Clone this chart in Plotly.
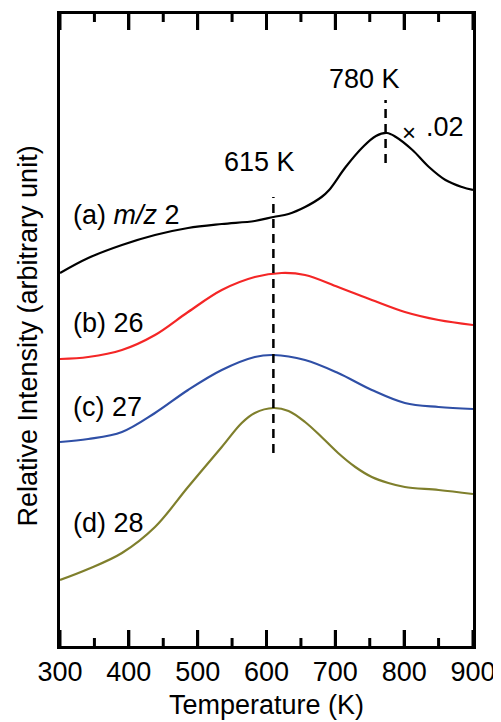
import plotly.graph_objects as go

# Temperature (K) and relative intensities (arbitrary units, offset traces)
T_a = [300, 341, 390, 438, 486, 535, 583, 610, 632, 656, 680, 691, 715, 740, 759, 775, 788, 812, 836, 860, 884, 900]
I_a = [373, 388, 401, 411, 418, 422, 425, 429, 432, 439, 449, 456, 479, 499, 510, 513, 509, 496, 479, 466, 459, 456]

T_b = [300, 341, 390, 438, 486, 535, 583, 622, 656, 704, 753, 801, 850, 900]
I_b = [287, 289, 296, 311, 334, 356, 369, 373, 371, 359, 346, 334, 326, 321]

T_c = [300, 341, 390, 438, 486, 535, 583, 610, 656, 704, 753, 801, 850, 900]
I_c = [204, 207, 214, 233, 256, 276, 289, 291, 286, 273, 256, 243, 239, 237]

T_d = [300, 341, 390, 438, 486, 535, 564, 583, 610, 632, 656, 680, 704, 729, 753, 777, 801, 850, 900]
I_d = [66, 77, 93, 119, 159, 199, 223, 233, 238, 235, 224, 209, 193, 179, 169, 163, 159, 156, 152]

series_labels = ["(a) <i>m/z</i> 2", "(b) 26", "(c) 27", "(d) 28"]
series_colors = ["#000000", "#f42626", "#2f4fa6", "#7f7f2c"]
label_y = [431, 323, 239, 123]

major_ticks = [300, 400, 500, 600, 700, 800, 900]
minor_ticks = [350, 450, 550, 650, 750, 850]

# peak marker lines
peak_x = [610, 773]
peak_y0 = [193, 483]
peak_y1 = [449, 546]
peak_text = ["615 K", "780 K"]
peak_text_x = [590, 743]
peak_text_y = [484, 567]

FONT = "Liberation Sans, Arial, sans-serif"
FS = 27
Y_MAX = 632
MAJOR_LEN = 16
MINOR_LEN = 8

fig = go.Figure()
for T, I, c in zip([T_a, T_b, T_c, T_d], [I_a, I_b, I_c, I_d], series_colors):
    fig.add_trace(go.Scatter(x=T, y=I, mode="lines",
                             line=dict(color=c, width=2.2, shape="spline", smoothing=1.0),
                             showlegend=False, hoverinfo="skip"))

# inside tick marks on bottom and top edges (1 y-unit = 1 px)
for tick_list, ln in ((major_ticks, MAJOR_LEN), (minor_ticks, MINOR_LEN)):
    for t in tick_list:
        fig.add_shape(type="line", xref="x", yref="y", x0=t, x1=t, y0=0, y1=ln, layer="above",
                      line=dict(color="black", width=3))
        fig.add_shape(type="line", xref="x", yref="y", x0=t, x1=t, y0=Y_MAX, y1=Y_MAX - ln, layer="above",
                      line=dict(color="black", width=3))

for px, y0, y1 in zip(peak_x, peak_y0, peak_y1):
    fig.add_shape(type="line", x0=px, x1=px, y0=y0, y1=y1, xref="x", yref="y",
                  line=dict(color="black", width=2.5, dash="9px,6px"))

for t, px_, py_ in zip(peak_text, peak_text_x, peak_text_y):
    fig.add_annotation(x=px_, y=py_, text=t, showarrow=False, xref="x", yref="y",
                       font=dict(family=FONT, size=FS, color="black"))

for lab, ly in zip(series_labels, label_y):
    fig.add_annotation(x=316, y=ly, text=lab, showarrow=False, xref="x", yref="y",
                       xanchor="left", font=dict(family=FONT, size=FS, color="black"))

fig.add_annotation(x=807, y=514, text="×", showarrow=False, xref="x", yref="y",
                   font=dict(family=FONT, size=24, color="black"))
fig.add_annotation(x=829, y=519, text=".02", showarrow=False, xref="x", yref="y",
                   xanchor="left", font=dict(family=FONT, size=FS, color="black"))

fig.add_annotation(x=-0.077, y=0.49, xref="paper", yref="paper", text="Relative Intensity (arbitrary unit)",
                   textangle=-90, showarrow=False, xanchor="center", yanchor="middle",
                   font=dict(family=FONT, size=FS, color="black"))
fig.add_annotation(x=0.5, y=0, xref="paper", yref="paper", text="Temperature (K)",
                   showarrow=False, xanchor="center", yanchor="top", yshift=-42,
                   font=dict(family=FONT, size=FS, color="black"))

fig.update_xaxes(range=[300, 900], tickvals=major_ticks, ticks="inside", ticklen=MAJOR_LEN,
                 tickwidth=3, tickcolor="black",
                 showline=True, linewidth=2.5, linecolor="black", mirror="ticks",
                 showgrid=False, zeroline=False, automargin=False,
                 tickfont=dict(family=FONT, size=FS, color="black"))
fig.update_yaxes(range=[0, Y_MAX], showticklabels=False, ticks="", showline=True, linewidth=2.5,
                 linecolor="black", mirror=True, showgrid=False, zeroline=False, automargin=False)

# page body has an 8px default margin; size the figure so the plot box lands at x 60-473, y 14-646
fig.update_layout(width=493, height=714, margin=dict(l=52, r=28, t=6, b=76),
                  plot_bgcolor="white", paper_bgcolor="white")

fig.write_html("out.html")
